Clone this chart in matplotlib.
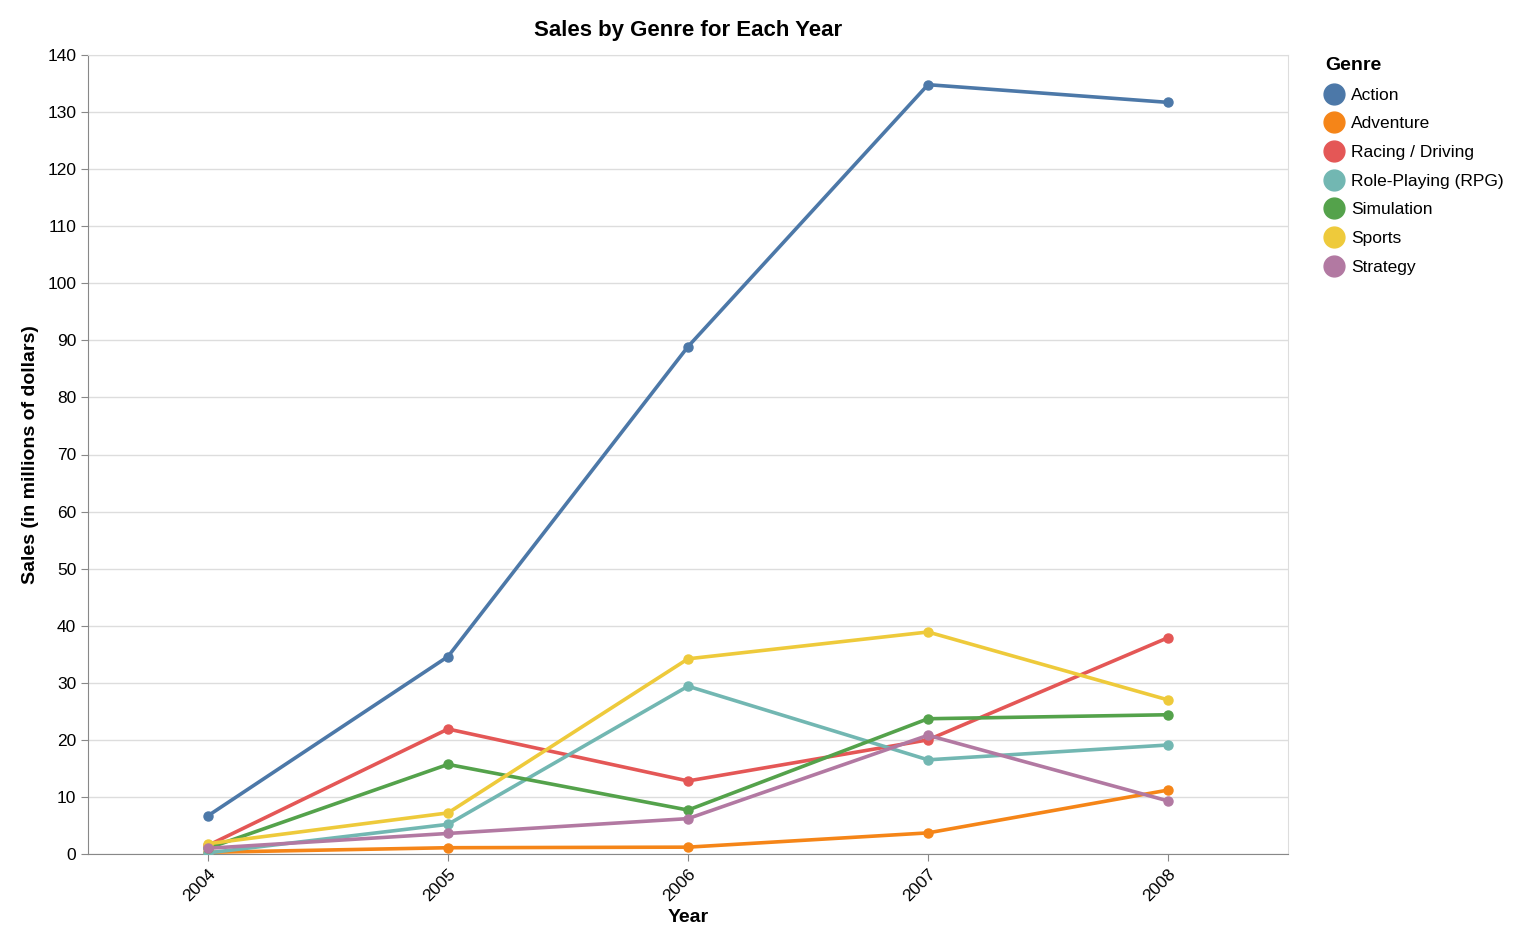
import matplotlib
matplotlib.use("Agg")
import matplotlib.pyplot as plt
from matplotlib.lines import Line2D

years = [2004, 2005, 2006, 2007, 2008]
genres = ["Action", "Adventure", "Racing / Driving", "Role-Playing (RPG)",
          "Simulation", "Sports", "Strategy"]
action = [6.7, 34.6, 88.9, 134.8, 131.7]
adventure = [0.3, 1.1, 1.2, 3.7, 11.2]
racing = [1.5, 21.9, 12.8, 20.0, 37.9]
rpg = [0.2, 5.2, 29.4, 16.5, 19.1]
simulation = [1.0, 15.7, 7.7, 23.7, 24.4]
sports = [1.8, 7.2, 34.2, 38.9, 27.0]
strategy = [1.0, 3.6, 6.2, 20.8, 9.3]
series = [action, adventure, racing, rpg, simulation, sports, strategy]
colors = ["#4c78a8", "#f58518", "#e45756", "#72b7b2", "#54a24b", "#eeca3b", "#b279a2"]

plt.rcParams["font.family"] = ["Liberation Sans", "DejaVu Sans"]
fig = plt.figure(figsize=(15.4, 9.52), dpi=100)
ax = fig.add_axes([88 / 1540, 1 - 854 / 952, 1200 / 1540, 799 / 952])

for vals, c in zip(series, colors):
    ax.plot(years, vals, color=c, linewidth=2.6, marker="o", markersize=6.5, zorder=3)

ax.set_xlim(2003.5, 2008.5)
ax.set_ylim(0, 140)
ax.set_xticks(years)
ax.set_xticklabels([str(y) for y in years], rotation=45, ha="right",
                   rotation_mode="anchor", fontsize=12.5)
ax.set_yticks(range(0, 141, 10))
ax.tick_params(axis="y", labelsize=12.5, length=5, color="#888888")
ax.tick_params(axis="x", length=5, color="#888888")
ax.grid(axis="y", color="#dddddd", linewidth=1)
ax.set_axisbelow(True)
for s in ["top", "right"]:
    ax.spines[s].set_color("#dddddd")
for s in ["left", "bottom"]:
    ax.spines[s].set_color("#888888")
ax.set_xlabel("Year", fontsize=14, fontweight="bold", labelpad=4)
ax.set_ylabel("Sales (in millions of dollars)", fontsize=14, fontweight="bold", labelpad=6)
ax.set_title("Sales by Genre for Each Year", fontsize=16, fontweight="bold", pad=14)

handles = [Line2D([], [], linestyle="none", marker="o", markersize=15, color=c)
           for c in colors]
leg = fig.legend(handles, genres, loc="upper left", bbox_to_anchor=(1318 / 1540, 1 - 50 / 952),
                 frameon=False, title="Genre", fontsize=12.5, handletextpad=0.4,
                 labelspacing=0.78, borderaxespad=0, handlelength=1.1)
leg.get_title().set_fontweight("bold")
leg.get_title().set_fontsize(14)
leg._legend_box.align = "left"

fig.savefig("out.png", dpi=100)
